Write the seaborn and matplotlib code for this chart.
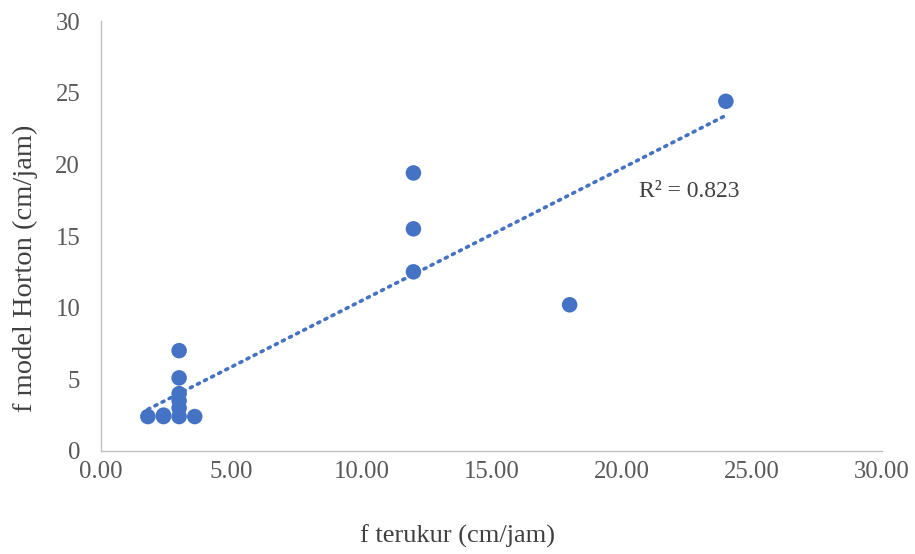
import numpy as np
import pandas as pd
import matplotlib
matplotlib.use('Agg')
import matplotlib.pyplot as plt
import seaborn as sns

# Data
f_terukur = [1.8, 2.4, 2.4, 3.0, 3.6, 3.0, 3.0, 3.0, 3.0, 3.0, 12.0, 12.0, 12.0, 18.0, 24.0]
f_horton = [2.4, 2.4, 2.5, 2.4, 2.4, 7.0, 5.1, 4.0, 3.5, 3.0, 19.4, 15.5, 12.5, 10.2, 24.4]
x_ticks = [0, 5, 10, 15, 20, 25, 30]
y_ticks = [0, 5, 10, 15, 20, 25, 30]
r2_label = 'R² = 0.823'

df = pd.DataFrame({'x': f_terukur, 'y': f_horton})

sns.set_style('white')
plt.rcParams['font.family'] = ['Liberation Serif', 'DejaVu Serif']

blue = '#4472C4'
fig = plt.figure(figsize=(9.15, 5.54), dpi=100)
ax = fig.add_axes([0.1104, 0.186, 0.8536, 0.776])

# linear trendline (dotted), spans the data range
slope, intercept = np.polyfit(df['x'], df['y'], 1)
xs = np.array([df['x'].min(), df['x'].max()])
ax.plot(xs, slope * xs + intercept, color=blue, linestyle=(0, (0.6, 1.6)),
        linewidth=2.6, dash_capstyle='round', zorder=2)

sns.scatterplot(data=df, x='x', y='y', ax=ax, color=blue, s=125,
                edgecolor='none', zorder=3)

ax.text(0.753, 0.604, r2_label, transform=ax.transAxes, fontsize=17,
        color='#404040', ha='center', va='center')

ax.set_xlim(0, 30)
ax.set_ylim(0, 30)
ax.set_xticks(x_ticks)
ax.set_xticklabels([f'{t:.2f}' for t in x_ticks])
ax.set_yticks(y_ticks)
ax.set_yticklabels([str(t) for t in y_ticks])
ax.tick_params(axis='both', length=0, labelsize=17.8, labelcolor='#595959')
ax.tick_params(axis='y', pad=15)
ax.tick_params(axis='x', pad=7)

for side in ['top', 'right']:
    ax.spines[side].set_visible(False)
for side in ['left', 'bottom']:
    ax.spines[side].set_color('#BFBFBF')
    ax.spines[side].set_linewidth(1)

ax.set_xlabel('f terukur (cm/jam)', fontsize=19, color='#404040', va='center')
ax.set_ylabel('f model Horton (cm/jam)', fontsize=20.5, color='#404040', va='center')
ax.xaxis.set_label_coords(0.456, -0.198)
ax.yaxis.set_label_coords(-0.097, 0.426)

fig.savefig('out.png', dpi=100)
